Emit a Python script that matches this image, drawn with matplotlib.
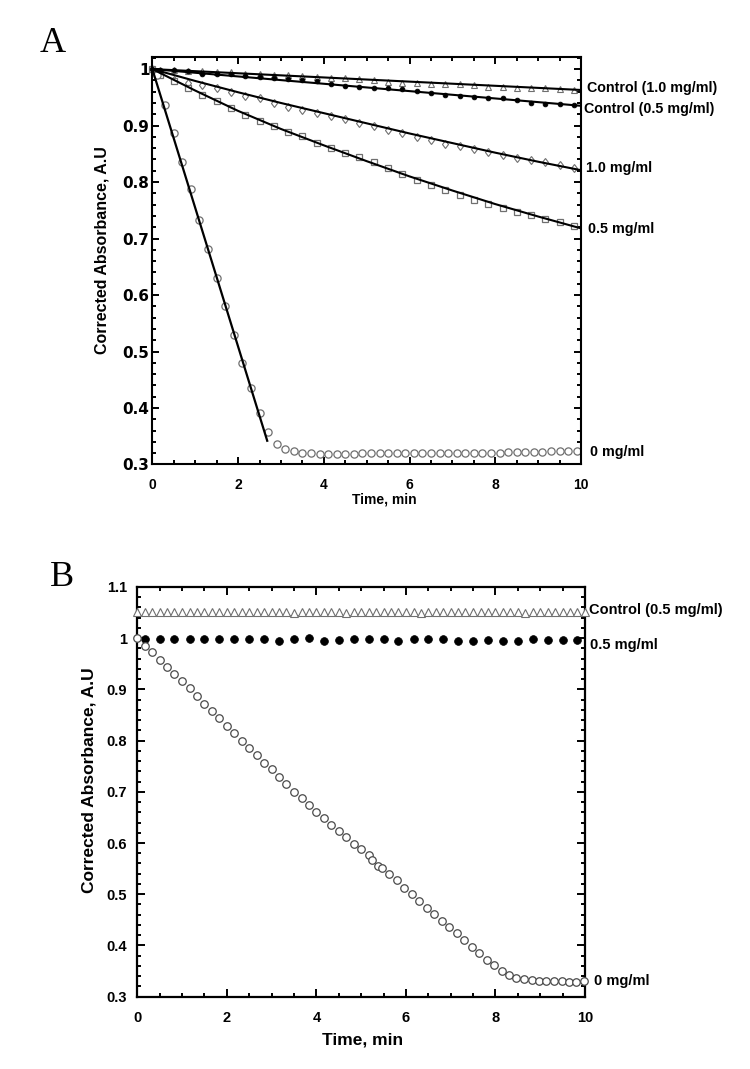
import matplotlib
matplotlib.use("Agg")
import matplotlib.pyplot as plt
from matplotlib.ticker import MultipleLocator, FuncFormatter

# ---------------- Panel A data ----------------
tA = [0, 0.17, 0.5, 0.83, 1.17, 1.5, 1.83, 2.17, 2.5, 2.83, 3.17, 3.5, 3.83,
      4.17, 4.5, 4.83, 5.17, 5.5, 5.83, 6.17, 6.5, 6.83, 7.17, 7.5, 7.83,
      8.17, 8.5, 8.83, 9.17, 9.5, 9.83]
ctrl10_A = [1.0, 0.999, 0.998, 0.997, 0.996, 0.995, 0.994, 0.992, 0.991, 0.990,
            0.989, 0.988, 0.986, 0.985, 0.984, 0.982, 0.981, 0.978, 0.976, 0.975,
            0.974, 0.973, 0.973, 0.972, 0.968, 0.969, 0.967, 0.967, 0.966, 0.965,
            0.963]
ctrl05_A = [1.0, 0.998, 0.998, 0.996, 0.992, 0.992, 0.991, 0.988, 0.986, 0.984,
            0.982, 0.981, 0.979, 0.973, 0.970, 0.969, 0.967, 0.966, 0.964, 0.961,
            0.957, 0.955, 0.952, 0.950, 0.949, 0.948, 0.945, 0.940, 0.939, 0.938,
            0.936]
mg10_A = [1.0, 0.993, 0.981, 0.976, 0.971, 0.966, 0.960, 0.953, 0.948, 0.940,
          0.933, 0.928, 0.922, 0.917, 0.912, 0.905, 0.900, 0.892, 0.886, 0.880,
          0.874, 0.868, 0.864, 0.859, 0.854, 0.848, 0.843, 0.839, 0.835, 0.830,
          0.824]
mg05_A = [1.0, 0.990, 0.979, 0.966, 0.954, 0.943, 0.931, 0.919, 0.908, 0.899,
          0.889, 0.881, 0.870, 0.860, 0.851, 0.844, 0.835, 0.825, 0.815, 0.804,
          0.795, 0.786, 0.777, 0.769, 0.762, 0.754, 0.747, 0.741, 0.734, 0.730,
          0.723]

t0_A = [0.1, 0.3, 0.5, 0.7, 0.9, 1.1, 1.3, 1.5, 1.7, 1.9, 2.1, 2.3, 2.5, 2.7,
        2.9, 3.1, 3.3, 3.5, 3.7, 3.9, 4.1, 4.3, 4.5, 4.7, 4.9, 5.1, 5.3, 5.5,
        5.7, 5.9, 6.1, 6.3, 6.5, 6.7, 6.9, 7.1, 7.3, 7.5, 7.7, 7.9, 8.1, 8.3,
        8.5, 8.7, 8.9, 9.1, 9.3, 9.5, 9.7, 9.9]
mg0_A = [0.990, 0.936, 0.887, 0.835, 0.788, 0.733, 0.681, 0.631, 0.580, 0.529,
         0.480, 0.436, 0.392, 0.358, 0.336, 0.327, 0.323, 0.321, 0.320, 0.319,
         0.319, 0.319, 0.319, 0.319, 0.320, 0.320, 0.320, 0.320, 0.320, 0.321,
         0.321, 0.321, 0.321, 0.321, 0.321, 0.321, 0.321, 0.321, 0.321, 0.321,
         0.321, 0.322, 0.322, 0.322, 0.322, 0.322, 0.323, 0.323, 0.323, 0.323]

# fitted lines (panel A)
fit_ctrl_t = [0, 10]
fit_ctrl10 = [1.0, 0.963]
fit_ctrl05 = [1.0, 0.935]
fit_t = [0, 1, 2, 3, 4, 5, 6, 7, 8, 9, 10]
fit_mg10 = [1.0, 0.979, 0.959, 0.940, 0.922, 0.904, 0.886, 0.869, 0.852, 0.836, 0.821]
fit_mg05 = [1.0, 0.962, 0.926, 0.894, 0.865, 0.837, 0.810, 0.785, 0.761, 0.739, 0.718]
fit_mg0_t = [0, 2.68]
fit_mg0 = [1.0, 0.342]

labels_A = ["Control (1.0 mg/ml)", "Control (0.5 mg/ml)", "1.0 mg/ml",
            "0.5 mg/ml", "0 mg/ml"]
label_pos_A = [(10.13, 0.966), (10.06, 0.929), (10.11, 0.825),
               (10.16, 0.717), (10.22, 0.322)]

# ---------------- Panel B data ----------------
t_ctrl_B = [0, 0.17, 0.33, 0.5, 0.67, 0.83, 1.0, 1.17, 1.33, 1.5, 1.67, 1.83,
            2.0, 2.17, 2.33, 2.5, 2.67, 2.83, 3.0, 3.17, 3.33, 3.5, 3.67, 3.83,
            4.0, 4.17, 4.33, 4.5, 4.67, 4.83, 5.0, 5.17, 5.33, 5.5, 5.67, 5.83,
            6.0, 6.17, 6.33, 6.5, 6.67, 6.83, 7.0, 7.17, 7.33, 7.5, 7.67, 7.83,
            8.0, 8.17, 8.33, 8.5, 8.67, 8.83, 9.0, 9.17, 9.33, 9.5, 9.67, 9.83,
            10.0]
ctrl_B = [1.051, 1.050, 1.051, 1.050, 1.051, 1.050, 1.051, 1.050, 1.051, 1.050,
          1.051, 1.050, 1.051, 1.050, 1.051, 1.050, 1.051, 1.050, 1.051, 1.050,
          1.051, 1.048, 1.050, 1.051, 1.050, 1.051, 1.050, 1.051, 1.048, 1.050,
          1.051, 1.050, 1.051, 1.050, 1.051, 1.050, 1.051, 1.050, 1.048, 1.050,
          1.051, 1.050, 1.051, 1.050, 1.051, 1.050, 1.051, 1.050, 1.051, 1.050,
          1.051, 1.050, 1.048, 1.050, 1.051, 1.050, 1.051, 1.050, 1.051, 1.050,
          1.050]
fit_ctrl_B_t = [0, 10]
fit_ctrl_B = [1.043, 1.043]

t_mg05_B = [0.17, 0.5, 0.83, 1.17, 1.5, 1.83, 2.17, 2.5, 2.83, 3.17, 3.5, 3.83,
            4.17, 4.5, 4.83, 5.17, 5.5, 5.83, 6.17, 6.5, 6.83, 7.17, 7.5, 7.83,
            8.17, 8.5, 8.83, 9.17, 9.5, 9.83]
mg05_B = [0.999, 0.999, 0.999, 0.999, 0.999, 0.999, 0.999, 0.998, 0.999, 0.994,
          0.998, 1.000, 0.994, 0.997, 0.998, 0.998, 0.998, 0.994, 0.999, 0.998,
          0.998, 0.995, 0.995, 0.997, 0.995, 0.995, 0.998, 0.996, 0.997, 0.997]

t_mg0_B = [0, 0.17, 0.33, 0.5, 0.67, 0.83, 1.0, 1.17, 1.33, 1.5, 1.67, 1.83,
           2.0, 2.17, 2.33, 2.5, 2.67, 2.83, 3.0, 3.17, 3.33, 3.5, 3.67, 3.83,
           4.0, 4.17, 4.33, 4.5, 4.67, 4.83, 5.0, 5.17, 5.24, 5.37, 5.46, 5.63,
           5.79, 5.96, 6.13, 6.29, 6.46, 6.63, 6.80, 6.96, 7.13, 7.30, 7.47,
           7.63, 7.80, 7.97, 8.14, 8.30, 8.46, 8.64, 8.81, 8.97, 9.14, 9.31,
           9.48, 9.65, 9.81, 9.98]
mg0_B = [1.001, 0.984, 0.973, 0.957, 0.944, 0.929, 0.916, 0.902, 0.887, 0.871,
         0.857, 0.843, 0.829, 0.815, 0.800, 0.785, 0.772, 0.757, 0.744, 0.729,
         0.715, 0.700, 0.687, 0.674, 0.660, 0.648, 0.635, 0.623, 0.611, 0.599,
         0.588, 0.576, 0.567, 0.555, 0.551, 0.539, 0.527, 0.512, 0.500, 0.487,
         0.474, 0.461, 0.448, 0.437, 0.424, 0.411, 0.398, 0.386, 0.372, 0.362,
         0.351, 0.342, 0.337, 0.334, 0.333, 0.331, 0.331, 0.331, 0.331, 0.329,
         0.329, 0.331]

labels_B = ["Control (0.5 mg/ml)", "0.5 mg/ml", "0 mg/ml"]
label_pos_B = [(10.09, 1.0545), (10.11, 0.986), (10.19, 0.331)]

xticks = [0, 2, 4, 6, 8, 10]

# ---------------- Figure ----------------
SANS = ["Liberation Sans", "DejaVu Sans"]
plt.rcParams["font.family"] = SANS
plt.rcParams["font.weight"] = "bold"

fig = plt.figure(figsize=(7.5, 10.69), dpi=100)
axA = fig.add_axes([0.2031, 0.5655, 0.5716, 0.3815])
axB = fig.add_axes([0.1831, 0.0676, 0.5969, 0.3835])

fmt = FuncFormatter(lambda v, p: "%g" % round(v, 3))


def style(ax, ylim, ypad, xpad, xfs, yfs, yfamily, major_len, minor_len, spw):
    ax.set_xlim(0, 10)
    ax.set_ylim(*ylim)
    ax.set_xticks(xticks)
    ax.xaxis.set_minor_locator(MultipleLocator(0.5))
    ax.yaxis.set_major_locator(MultipleLocator(0.1))
    ax.yaxis.set_minor_locator(MultipleLocator(0.02))
    ax.yaxis.set_major_formatter(fmt)
    ax.xaxis.set_major_formatter(fmt)
    ax.tick_params(which="both", direction="in", top=True, right=True,
                   width=1.4, color="black")
    ax.tick_params(which="major", length=major_len)
    ax.tick_params(which="minor", length=minor_len)
    ax.tick_params(axis="x", which="major", pad=xpad, labelsize=xfs)
    ax.tick_params(axis="y", which="major", pad=ypad, labelsize=yfs)
    for lab in ax.get_xticklabels():
        lab.set_fontweight("bold")
    for lab in ax.get_yticklabels():
        lab.set_fontweight("bold")
        lab.set_fontfamily(yfamily)
    for s in ax.spines.values():
        s.set_linewidth(spw)


grey = "#6f6f6f"
# ---- Panel A ----
axA.plot(fit_ctrl_t, fit_ctrl10, color="black", lw=1.5, zorder=3)
axA.plot(fit_ctrl_t, fit_ctrl05, color="black", lw=1.5, zorder=3)
axA.plot(fit_t, fit_mg10, color="black", lw=1.5, zorder=3)
axA.plot(fit_t, fit_mg05, color="black", lw=1.5, zorder=3)
axA.plot(fit_mg0_t, fit_mg0, color="black", lw=1.6, zorder=3)

axA.plot(tA, ctrl10_A, ls="none", marker="^", ms=5, mfc="white", mec=grey,
         mew=0.8, zorder=2, clip_on=False)
axA.plot(tA, ctrl05_A, ls="none", marker="o", ms=3.4, mfc="black", mec="black",
         mew=0.6, zorder=4, clip_on=False)
axA.plot(tA, mg10_A, ls="none", marker="d", ms=4.5, mfc="white", mec=grey,
         mew=0.8, zorder=2, clip_on=False)
axA.plot(tA, mg05_A, ls="none", marker="s", ms=5, mfc="white", mec=grey,
         mew=0.9, zorder=2, clip_on=False)
axA.plot(t0_A, mg0_A, ls="none", marker="o", ms=5.2, mfc="white", mec=grey,
         mew=0.9, zorder=2, clip_on=False)

style(axA, (0.3, 1.022), 2, 9.5, 10, 11, ["DejaVu Sans"], 5, 2.8, 1.5)
for txt, (x, y) in zip(labels_A, label_pos_A):
    axA.text(x, y, txt, ha="left", va="center", fontsize=10.3,
             fontweight="bold", clip_on=False)
axA.set_xlabel("Time, min", fontsize=10, fontweight="bold", va="center")
axA.xaxis.set_label_coords(0.5405, -0.087)
axA.set_ylabel("Corrected Absorbance, A.U", fontsize=11.5, fontweight="bold",
               va="center")
axA.yaxis.set_label_coords(-0.117, 0.526)

# ---- Panel B ----
axB.plot(fit_ctrl_B_t, fit_ctrl_B, color="#8a8a8a", lw=1.3, zorder=2)
axB.plot(t_ctrl_B, ctrl_B, ls="none", marker="^", ms=5.4, mfc="white", mec=grey,
         mew=0.8, zorder=3, clip_on=False)
axB.plot(t_mg05_B, mg05_B, ls="none", marker="o", ms=5.6, mfc="black",
         mec="black", mew=0.5, zorder=3, clip_on=False)
axB.plot(t_mg0_B, mg0_B, ls="none", marker="o", ms=5.4, mfc="white",
         mec="#4a4a4a", mew=0.9, zorder=3, clip_on=False)

style(axB, (0.3, 1.1), 7.5, 10, 10.5, 10.5, SANS, 6, 3.2, 1.6)
for txt, (x, y) in zip(labels_B, label_pos_B):
    axB.text(x, y, txt, ha="left", va="center", fontsize=10.5,
             fontweight="bold", clip_on=False)
axB.set_xlabel("Time, min", fontsize=12.5, fontweight="bold", va="center")
axB.xaxis.set_label_coords(0.504, -0.1056)
axB.set_ylabel("Corrected Absorbance, A.U", fontsize=12.5, fontweight="bold",
               va="center")
axB.yaxis.set_label_coords(-0.108, 0.5285)

# panel letters
fig.text(53 / 750, 1 - 44 / 1069, "A", fontsize=26, family="Liberation Serif",
         fontweight="normal", ha="center", va="center")
fig.text(62 / 750, 1 - 578 / 1069, "B", fontsize=26, family="Liberation Serif",
         fontweight="normal", ha="center", va="center")

fig.savefig("out.png", dpi=100, facecolor="white")
